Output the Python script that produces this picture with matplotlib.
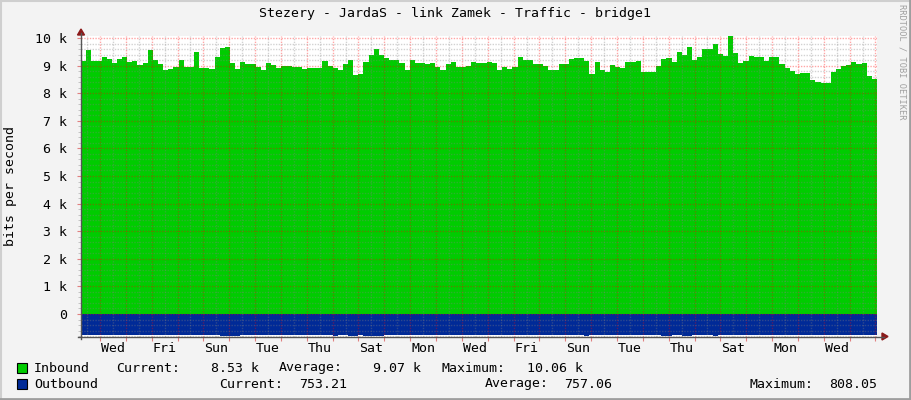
import numpy as np
import matplotlib
matplotlib.use("Agg")
import matplotlib.pyplot as plt
from matplotlib.patches import Rectangle
from matplotlib.lines import Line2D

plt.rcParams['font.family'] = ['DejaVu Sans Mono']

# Inbound traffic, k bits/s, one value per consolidation step
inbound_k = [
    9.17, 9.57, 9.17, 9.17, 9.31, 9.23, 9.11, 9.24, 9.31, 9.13, 9.17, 9.02, 9.10, 9.57, 9.20,
    9.05, 8.84, 8.88, 8.95, 9.20, 8.96, 8.96, 9.49, 8.92, 8.92, 8.88, 9.31, 9.63, 9.67, 9.10,
    8.88, 9.13, 9.07, 9.04, 8.96, 8.85, 9.10, 9.02, 8.93,
    8.99, 8.99, 8.95, 8.95, 8.88, 8.92, 8.92, 8.92, 9.17, 9.00, 8.93, 8.85, 9.07, 9.20, 8.67,
    8.71, 9.14, 9.38, 9.60, 9.40, 9.28, 9.19, 9.22, 9.11, 8.85, 9.20, 9.11, 9.11, 9.07, 9.11,
    8.96, 8.85, 9.07, 9.14, 8.96, 8.96, 9.00, 9.14, 9.11, 9.11,
    9.13, 9.10, 8.85, 8.95, 8.88, 8.95, 9.31, 9.20, 9.20, 9.04, 9.07, 9.00, 8.85, 8.85, 9.07,
    9.04, 9.24, 9.28, 9.28, 9.17, 8.71, 9.13, 8.85, 8.75, 9.02, 8.95, 8.93, 9.13, 9.13, 9.17,
    8.78, 8.78, 8.78, 9.00, 9.24, 9.28, 9.14, 9.49,
    9.38, 9.67, 9.20, 9.31, 9.60, 9.60, 9.78, 9.42, 9.36, 10.06, 9.46, 9.10, 9.17, 9.35, 9.31,
    9.31, 9.18, 9.31, 9.31, 9.06, 8.92, 8.81, 8.71, 8.73, 8.73, 8.48, 8.42, 8.36, 8.38, 8.78,
    8.88, 8.99, 9.02, 9.13, 9.04, 9.10, 8.63, 8.53,
]

# Outbound traffic, bits/s (drawn below zero)
outbound = [
    752, 753, 751, 752, 754, 752, 750, 752, 753, 751, 752, 754, 752, 751, 753, 752, 750, 752, 753, 752,
    751, 752, 754, 752, 751, 753, 752, 806, 808, 805, 804, 752, 753, 751, 752, 754, 752, 750, 752, 753,
    751, 752, 754, 752, 751, 753, 752, 750, 752, 803, 752, 751, 805, 804, 752, 806, 807, 805, 803, 752,
    751, 752, 754, 752, 750, 752, 753, 751, 752, 754, 752, 751, 753, 752, 750, 752, 753, 752, 751, 752,
    754, 752, 751, 753, 752, 750, 752, 753, 751, 752, 754, 752, 751, 753, 752, 750, 752, 753, 804, 752,
    751, 752, 754, 752, 751, 753, 752, 750, 752, 753, 751, 752, 754, 805, 806, 752, 751, 806, 805, 752,
    750, 752, 753, 804, 752, 751, 752, 754, 752, 751, 753, 752, 750, 752, 753, 751, 752, 754, 752, 751,
    753, 752, 750, 752, 753, 751, 752, 754, 753, 753, 753, 753, 753, 753, 753,
]

day_labels = ['Wed', 'Fri', 'Sun', 'Tue', 'Thu', 'Sat', 'Mon', 'Wed',
              'Fri', 'Sun', 'Tue', 'Thu', 'Sat', 'Mon', 'Wed']
y_ticks_k = list(range(0, 11))

title = "Stezery - JardaS - link Zamek - Traffic - bridge1"
legend_rows = [
    ("Inbound", "#00CC00", [("Current:", 116, "8.53 k", 259), ("Average:", 279, "9.07 k", 421),
                            ("Maximum:", 441, "10.06 k", 583)]),
    ("Outbound", "#002A97", [("Current:", 219, "753.21", 347), ("Average:", 485, "757.06", 612),
                             ("Maximum:", 749, "808.05", 877)]),
]

W, H = 911, 400
GREEN = "#00CC00"
BLUE = "#002A97"


def fx(x):
    return x / W


def fy(y):
    return 1 - y / H


fig = plt.figure(figsize=(W / 100, H / 100), dpi=100)
fig.patch.set_facecolor("#F3F3F3")

# plot area in pixels: x 81..877, y 36..336.5
left, right, top, bottom = 81, 877, 36, 336.5
ax = fig.add_axes([fx(left), fy(bottom), (right - left) / W, (bottom - top) / H])
ax.set_facecolor("white")

# time axis in days, day 0 = first Wednesday 00:00
x_start = -0.735
x_end = x_start + (right - left) / 25.85
n = len(inbound_k)
t = np.linspace(x_start, x_end, n + 1)
inb = np.array(inbound_k) * 1000.0
inb = np.append(inb, inb[-1])
outb = -np.array(outbound, dtype=float)
outb = np.append(outb, outb[-1])

ax.fill_between(t, 0, inb, step="post", color=GREEN, linewidth=0, zorder=1)
ax.fill_between(t, 0, outb, step="post", color=BLUE, linewidth=0, zorder=1)

ax.set_xlim(x_start, x_end)
ax.set_ylim(-815, 10072)

# grid on top of the areas
minor_col = (0.5, 0.5, 0.5, 0.35)
major_col = (1.0, 0.0, 0.0, 0.35)
for d in np.arange(np.ceil(x_start * 2) / 2, x_end, 0.5):
    col = major_col if abs(d - round(d)) < 1e-6 else minor_col
    ax.axvline(d, color=col, linewidth=1, linestyle=(0, (1, 1)), zorder=3)
for v in np.arange(-800, 10001, 200):
    col = major_col if v % 1000 == 0 else minor_col
    ax.axhline(v, color=col, linewidth=1, linestyle=(0, (1, 1)), zorder=3)

for s in ax.spines.values():
    s.set_visible(False)

# ticks
major_days = np.arange(np.ceil(x_start), x_end, 1.0)
ax.set_xticks(major_days)
ax.set_xticklabels([])
ax.tick_params(axis="x", which="major", length=3, color="#E08080", direction="out")
label_pos = [0.5 + 2 * k for k in range(len(day_labels))]
ax.set_xticks(label_pos, minor=True)
ax.set_xticklabels(day_labels, minor=True)
ax.tick_params(axis="x", which="minor", length=0, pad=4, labelsize=9.5, labelcolor="black")

ax.set_yticks([k * 1000 for k in y_ticks_k])
ax.set_yticklabels(["0" if k == 0 else "%d k" % k for k in y_ticks_k])
ax.tick_params(axis="y", which="major", length=3, color="#E08080", pad=7, labelsize=9.5)
ax.set_yticks(np.arange(-800, 10001, 200), minor=True)
ax.tick_params(axis="y", which="minor", length=2, color="#BBBBBB")

# axis lines with arrow heads
axis_col = "#555555"
fig.add_artist(Line2D([fx(78), fx(884)], [fy(336.5), fy(336.5)], color=axis_col, linewidth=1))
fig.add_artist(Line2D([fx(81), fx(81)], [fy(339), fy(33)], color=axis_col, linewidth=1))
arrow_col = "#8B1A1A"
fig.add_artist(plt.Polygon([[fx(882), fy(333)], [fx(882), fy(340)], [fx(888), fy(336.5)]],
                           closed=True, color=arrow_col))
fig.add_artist(plt.Polygon([[fx(77.5), fy(35)], [fx(84.5), fy(35)], [fx(81), fy(29)]],
                           closed=True, color=arrow_col))

# texts
fig.text(fx(455), fy(13), title, ha="center", va="center", fontsize=9.5)
fig.text(fx(11), fy(186), "bits per second", rotation=90, ha="center", va="center", fontsize=9.5)
fig.text(fx(902), fy(62), "RRDTOOL / TOBI OETIKER", rotation=270, ha="center", va="center",
         fontsize=6.2, color="#A0A0A0")

row_y = [368, 384]
for (name, col, stats), y in zip(legend_rows, row_y):
    fig.add_artist(Rectangle((fx(17), fy(y + 5)), 10 / W, 10 / H, facecolor=col,
                             edgecolor="black", linewidth=0.8))
    fig.text(fx(34), fy(y), name, ha="left", va="center", fontsize=9.5)
    for lab, lx, val, vx in stats:
        fig.text(fx(lx), fy(y), lab, ha="left", va="center", fontsize=9.5)
        fig.text(fx(vx), fy(y), val, ha="right", va="center", fontsize=9.5)

# image frame
fig.add_artist(Line2D([0, 1], [fy(0.5), fy(0.5)], color="#CFCFCF", linewidth=1.5))
fig.add_artist(Line2D([fx(0.5), fx(0.5)], [0, 1], color="#CFCFCF", linewidth=1.5))
fig.add_artist(Line2D([0, 1], [fy(399), fy(399)], color="#9E9E9E", linewidth=2))
fig.add_artist(Line2D([fx(910), fx(910)], [0, 1], color="#9E9E9E", linewidth=2))

fig.savefig("out.png", dpi=100, facecolor=fig.get_facecolor())
